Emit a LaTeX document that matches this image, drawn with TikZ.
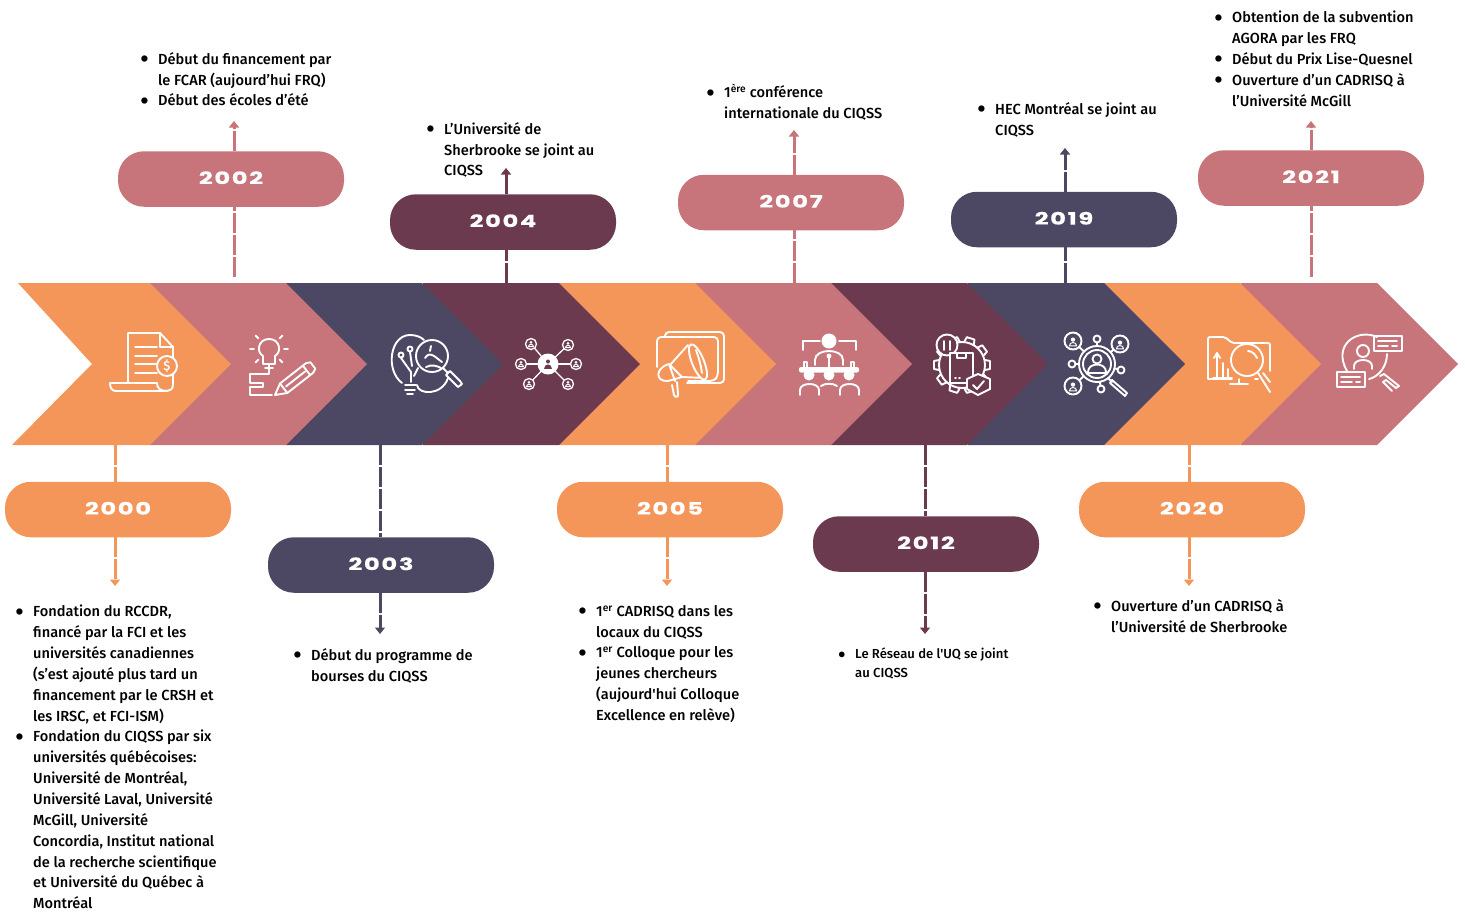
\documentclass[tikz,border=0pt]{standalone}
\usepackage{graphicx}
\usepackage{fontspec}
\setmainfont{Fira Sans Medium}[Ligatures=TeXOff]
\newfontfamily\yearfont[FakeStretch=1.42,LetterSpace=10,FakeBold=0.6]{Poppins Bold}
\usepackage{tikz}
\usetikzlibrary{arrows.meta}
\definecolor{tl-orange}{RGB}{244,150,90}
\definecolor{tl-rose}{RGB}{199,116,122}
\definecolor{tl-navy}{RGB}{76,72,100}
\definecolor{tl-wine}{RGB}{108,58,78}
\tikzset{
	yearpill/.style={rounded corners=26pt,minimum width=226pt,minimum height=55.5pt,inner sep=0pt,text=white,font=\yearfont\fontsize{17}{17}\selectfont},
	link/.style={line width=3pt,dash pattern=on 20pt off 2pt},
	linkarrow/.style={link,-{Triangle[width=10pt,length=6.5pt]}},
	note/.style={anchor=north west,inner sep=0pt,align=left,text=black,font=\fontsize{14.6}{20.85}\selectfont},
	smallnote/.style={note,font=\fontsize{13.1}{19}\selectfont},
	iconline/.style={draw=white,line width=1.9pt,line cap=round,line join=round}
}
\newcommand{\bul}{\llap{\smash{\raisebox{-3.4pt}{\scalebox{1.7}{\textbullet}}}\hspace{9.5pt}}}
\newcommand{\tinyperson}[3]{% x, y, size
	\fill[white] (#1,#2-0.4*#3) circle (0.36*#3);
	\draw[iconline,line width=1pt] (#1-0.6*#3,#2+0.65*#3) .. controls (#1-0.6*#3,#2-0.1*#3) and (#1+0.6*#3,#2-0.1*#3) .. (#1+0.6*#3,#2+0.65*#3) -- cycle;
}
\begin{document}
\begin{tikzpicture}[x=1pt,y=-1pt]
	\useasboundingbox (0,0) rectangle (1465,911);
	\foreach \tip/\col in {1458/tl-rose,1321/tl-orange,1185/tl-navy,1048/tl-wine,912/tl-rose,776/tl-orange,640/tl-wine,503/tl-navy,367/tl-rose}{	% chevrons, last one first
		\fill [\col] (\tip-217,283) -- (\tip-81,283) -- (\tip,364) -- (\tip-81,445) -- (\tip-217,445) -- cycle;
	}
	\fill [tl-orange] (18,283) -- (150,283) -- (231,364) -- (150,445) -- (12,445) -- (92,364) -- cycle;	% first chevron with notch

	\foreach \yr/\col/\cx/\cy in {2000/tl-orange/118/509.5,2002/tl-rose/231/179,2003/tl-navy/381/565,2004/tl-wine/503/222,2005/tl-orange/670/509.5,2007/tl-rose/791/202.5,2012/tl-wine/926/544,2019/tl-navy/1064/219.5,2020/tl-orange/1192/509.5,2021/tl-rose/1311/178}{	% year pills
		\node [yearpill,fill=\col] (y\yr) at (\cx,\cy) {\raisebox{2.5pt}{\yr}};
	}
	\foreach \yr/\col/\xx/\yy in {2000/tl-orange/115/586,2003/tl-navy/380/634,2005/tl-orange/667/586,2012/tl-wine/925/634,2020/tl-orange/1189/586}{	% links going down
		\coordinate (from\yr) at (\xx,445);
		\coordinate (to\yr) at (\xx,\yy);
		\draw [link,draw=\col] (from\yr) -- (from\yr |- y\yr.north);
		\draw [linkarrow,draw=\col,fill=\col] (from\yr |- y\yr.south) -- (to\yr);
	}
	\foreach \yr/\col/\xx/\ys/\yy in {2002/tl-rose/234/277/121,2004/tl-wine/506/283/168,2007/tl-rose/794/283/130,2019/tl-navy/1065/283/148,2021/tl-rose/1311/277/121}{	% links going up
		\coordinate (from\yr) at (\xx,\ys);
		\coordinate (to\yr) at (\xx,\yy);
		\draw [link,draw=\col] (from\yr) -- (from\yr |- y\yr.south);
		\draw [linkarrow,draw=\col,fill=\col] (from\yr |- y\yr.north) -- (to\yr);
	}

	\node [note] (n2000) at (33,605) {\bul Fondation du RCCDR,\\financé par la FCI et les\\universités canadiennes\\(s’est ajouté plus tard un\\financement par le CRSH et\\les IRSC, et FCI-ISM)\\\bul Fondation du CIQSS par six\\universités québécoises:\\Université de Montréal,\\Université Laval, Université\\McGill, Université\\Concordia, Institut national\\de la recherche scientifique\\et Université du Québec à\\Montréal};
	\node [note] (n2002) at (158,52) {\bul Début du financement par\\le FCAR (aujourd’hui FRQ)\\\bul Début des écoles d’été};
	\node [note] (n2003) at (311,648) {\bul Début du programme de\\bourses du CIQSS};
	\node [note] (n2004) at (444,122) {\bul L’Université de\\Sherbrooke se joint au\\CIQSS};
	\node [note] (n2005) at (596,605) {\bul 1\textsuperscript{er} CADRISQ dans les\\locaux du CIQSS\\\bul 1\textsuperscript{er} Colloque pour les\\jeunes chercheurs\\(aujourd'hui Colloque\\Excellence en relève)};
	\node [note] (n2007) at (724,84) {\bul 1\textsuperscript{ère} conférence\\internationale du CIQSS};
	\node [smallnote] (n2012) at (855,648) {\bul Le Réseau de l'UQ se joint\\au CIQSS};
	\node [note] (n2019) at (995,102) {\bul HEC Montréal se joint au\\CIQSS};
	\node [note] (n2020) at (1111,599) {\bul Ouverture d’un CADRISQ à\\l’Université de Sherbrooke};
	\node [note] (n2021) at (1232,11) {\bul Obtention de la subvention\\AGORA par les FRQ\\\bul Début du Prix Lise-Quesnel\\\bul Ouverture d’un CADRISQ à\\l’Université McGill};

	% document with dollar
	\draw [iconline] (128,383) -- (128,333) -- (160,333) -- (173,347) -- (173,385) .. controls (173,389) and (170,391) .. (167,391) -- (116,391) .. controls (112,391) and (110,388) .. (110,383) -- (157,383) .. controls (157,388) and (160,391) .. (167,391);
	\draw [iconline] (160,333) -- (160,347) -- (173,347);
	\foreach \y in {347,356,364,373}{
		\draw [iconline] (135,\y) -- (157,\y);
	}
	\draw [iconline,fill=tl-orange] (167,366) circle (10);
	\node [text=white,font=\fontsize{13}{13}\selectfont,inner sep=0pt] (dollar) at (167,366) {\$};
	% bulb and pencil
	\draw [iconline] (263,356) .. controls (256,352) and (258,339) .. (269,339) .. controls (280,339) and (282,352) .. (275,356) -- (275,364) -- (263,364) -- cycle;
	\draw [iconline] (265,368) -- (273,368);
	\foreach \a in {0,45,135,180,225,270,315}{
		\draw [iconline,shift={(269,349)},rotate=\a] (15,0) -- (19,0);
	}
	\draw [iconline] (269,368) -- (269,374) -- (250,374) -- (250,383) -- (263,383) -- (263,387) -- (250,387) -- (250,395) -- (272,395);
	\begin{scope}[shift={(275,395)},rotate=38]
		\draw [iconline] (0,0) -- (11,-6) -- (44,-6) -- (48,-4) -- (48,4) -- (44,6) -- (11,6) -- cycle;
		\draw [iconline] (11,-6) -- (11,6) (40,-6) -- (40,6) (14,0) -- (38,0);
	\end{scope}
	% bulb, gear and magnifier
	\draw [iconline] (402,383) .. controls (385,370) and (390,335) .. (410,335) .. controls (416,335) and (421,337) .. (424,340);
	\draw [iconline] (405,385) -- (416,385) (405,390) -- (415,390) (407,394) -- (413,394);
	\draw [iconline] (401,355) circle (2.5) (410,349) circle (2.5);
	\draw [iconline] (401,358) -- (411,372) -- (411,382) (410,352) -- (412,366);
	\draw [iconline] (417,385) .. controls (418,395) and (442,396) .. (448,378);
	\draw [iconline] (414,376) -- (418,368);
	\draw [iconline,fill=tl-navy] (432,356) circle (16);
	\draw [iconline] (425,358) .. controls (430,350) and (436,358) .. (442,362) (426,367) .. controls (432,364) and (437,366) .. (441,368) (431,346) -- (430,351);
	\draw [iconline] (443,368) -- (448,373) (450,371) -- (460,381) -- (462,384) -- (458,387) -- (446,375) -- cycle;
	% network
	\fill [white] (548,364) circle (10.5);
	\fill [tl-wine] (548,361.5) circle (2);
	\fill [tl-wine] (544,369) .. controls (544,363) and (552,363) .. (552,369) -- cycle;
	\foreach \sx/\sy in {531/344,568/345,521/364,576/364,529/384,568/384}{
		\draw [iconline,line width=1.3pt] (\sx,\sy) circle (5.5);
		\tinyperson{\sx}{\sy}{4.2}
		\draw [iconline,line width=1.3pt,shorten >=10.5pt,shorten <=6pt] (\sx,\sy) -- (548,364);
	}
	% megaphone on cards
	\draw [iconline,rounded corners=4pt] (665,337) -- (665,332) -- (724,332) -- (724,383) -- (687,383);
	\draw [iconline,rounded corners=4pt] (657,367) -- (657,337) -- (718,337) -- (718,376) -- (714,381) -- (688,381);
	\fill [tl-orange] (670,365) -- (690,345) -- (706,378) -- (682,377) -- cycle;
	\draw [iconline] (688,345) -- (670,365) (705,378) -- (682,377);
	\draw [iconline,fill=tl-orange,rotate around={22:(698,362)}] (698,362) ellipse (6 and 19);
	\draw [iconline] (696,350) .. controls (699,358) and (701,366) .. (702,373);
	\draw [iconline,fill=tl-orange] (672,385) -- (674,395) .. controls (675,398) and (679,397) .. (678,394) -- (677,382);
	\draw [iconline,fill=tl-orange] (669,364) .. controls (655,368) and (655,382) .. (668,381) -- (682,377) -- cycle;
	\draw [iconline] (669,364) -- (675,381);
	% conference table
	\fill [white] (829,341) circle (7.5);
	\draw [iconline] (803,350) -- (803,341) -- (820,341) (839,341) -- (856,341) -- (856,350);
	\draw [iconline] (815,365) -- (815,360) .. controls (815,348) and (843,348) .. (843,360) -- (843,365);
	\fill [white] (829,356) circle (2.5);
	\draw [iconline] (829,358) -- (829,367);
	\fill [white,rounded corners=2pt] (799,367) rectangle (859,372.5);
	\draw [iconline] (804,367) -- (804,362) -- (807,362) -- (807,367) (851,367) -- (851,362) -- (854,362) -- (854,367);
	\foreach \px in {809,829,849}{
		\fill [white] (\px,375) circle (5.5);
	}
	\draw [iconline] (800,395) -- (800,390) .. controls (800,382) and (819,382) .. (819,390) -- (819,395);
	\draw [iconline] (821,386) .. controls (825,383) and (833,383) .. (837,386);
	\draw [iconline] (840,395) -- (840,390) .. controls (840,382) and (859,382) .. (859,390) -- (859,395);
	% gear with bulb, box and shield
	\foreach \a in {0,36,...,324}{
		\draw [iconline,shift={(962,365)},rotate=\a] (23,-5) -- (28,-4) -- (28,4) -- (23,5);
	}
	\draw [iconline] (962,365) circle (23);
	\draw [iconline,fill=tl-wine] (947,345) circle (10.5);
	\draw [iconline] (944,341) -- (944,350) (950,341) -- (950,350);
	\draw [iconline,fill=tl-wine] (950,353) rectangle (973,383);
	\draw [iconline] (957,353) -- (957,358) -- (966,358) -- (966,353);
	\draw [iconline] (955,378) -- (956,378) (959,378) -- (960,378);
	\draw [iconline,fill=tl-wine] (978,374) -- (990,379) -- (990,389) -- (978,395) -- (967,389) -- (967,379) -- cycle;
	\draw [iconline] (973,385) -- (977,389) -- (984,381);
	% people under magnifier
	\draw [iconline] (1097,364) circle (18) (1097,364) circle (14);
	\draw [iconline] (1097,359) circle (4.5);
	\draw [iconline] (1088,373) -- (1088,372) .. controls (1088,362) and (1106,362) .. (1106,372) -- (1106,373) -- cycle;
	\draw [iconline] (1108,378) -- (1112,382) (1112,380) -- (1127,393) -- (1125,396) -- (1110,383) -- cycle;
	\foreach \sx/\sy in {1073/341,1120/344,1073/386}{
		\draw [iconline] (\sx,\sy) circle (8.5);
		\tinyperson{\sx}{\sy+1}{6}
		\draw [iconline,shorten >=18pt,shorten <=8.5pt] (\sx,\sy) -- (1097,364);
	}
	\foreach \sx/\sy in {1097/339,1072/364,1121/370,1101/389}{
		\draw [iconline] (\sx,\sy) circle (3.5);
		\draw [iconline,shorten >=18pt,shorten <=3.5pt] (\sx,\sy) -- (1097,364);
	}
	% folder with magnifier
	\draw [iconline,rounded corners=2pt] (1208,379) -- (1208,337) -- (1225,337) -- (1232,343) -- (1270,343) -- (1270,371) (1208,379) -- (1232,379) (1255,379) -- (1258,379);
	\draw [iconline] (1239,379) -- (1239,384) (1230,384) -- (1248,384);
	\draw [iconline] (1217,378) -- (1217,355) (1214,358) -- (1217,353) -- (1220,358) (1223,378) -- (1223,363) (1228,378) -- (1228,369) (1213,378) -- (1232,378);
	\draw [iconline,fill=tl-orange] (1247,360) circle (16);
	\draw [iconline] (1248,351) .. controls (1252,351) and (1255,354) .. (1257,358);
	\draw [iconline] (1258,373) -- (1270,392) (1263,373) -- (1270,382);
	% person search
	\draw [iconline] (1347,371) .. controls (1332,345) and (1357,328) .. (1377,337);
	\draw [iconline] (1387,354) .. controls (1387,367) and (1378,377) .. (1369,379);
	\draw [iconline] (1363,351) circle (6);
	\draw [iconline] (1354,369) -- (1354,366) .. controls (1354,358) and (1372,358) .. (1372,366) -- (1372,369);
	\draw [iconline] (1374,336) rectangle (1402,351);
	\draw [iconline] (1378,341) -- (1397,341) (1378,346) -- (1388,346) (1392,346) -- (1397,346);
	\draw [iconline] (1337,372) rectangle (1365,387);
	\draw [iconline] (1341,377) -- (1360,377) (1341,382) -- (1352,382) (1356,382) -- (1360,382);
	\draw [iconline] (1380,376) -- (1384,374) -- (1399,386) -- (1396,388) -- (1386,380) -- (1383,382) -- (1392,391);
\end{tikzpicture}
\end{document}
